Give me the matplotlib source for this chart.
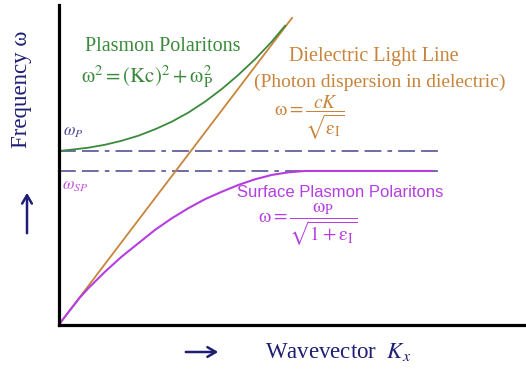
"""
Dispersion diagram: bulk plasmon polaritons, dielectric light line and
surface plasmon polaritons (omega vs K_x), values read off the picture.
"""

import matplotlib
matplotlib.use("Agg")
import matplotlib.pyplot as plt

plt.rcParams["font.family"] = ["Liberation Serif", "DejaVu Serif"]
plt.rcParams["mathtext.fontset"] = "stix"

# --- data (K in units where omega_p = 1) ---
omega_p = 1.0
omega_sp = 0.885

k_bulk = [0.0, 0.092, 0.169, 0.265, 0.361, 0.457, 0.553, 0.650, 0.745,
          0.841, 0.938, 1.033, 1.130, 1.226, 1.303]
w_bulk = [1.000, 1.010, 1.019, 1.036, 1.059, 1.088, 1.125, 1.169, 1.221,
          1.284, 1.357, 1.438, 1.529, 1.630, 1.722]

k_light = [0.0, 1.343]
w_light = [0.0, 1.767]

k_spp = [0.0, 0.073, 0.12, 0.169, 0.265, 0.361, 0.457, 0.553, 0.650, 0.745,
         0.841, 0.938, 1.033, 1.130, 1.226, 1.322, 1.418, 2.150]
w_spp = [0.0, 0.095, 0.155, 0.209, 0.304, 0.391, 0.468, 0.545, 0.612, 0.670,
         0.722, 0.765, 0.804, 0.837, 0.862, 0.877, 0.885, 0.885]

k_dash_end = 2.213

GREEN = "#3b8a3b"
ORANGE = "#c8843a"
PURPLE = "#b43ee0"
NAVY = "#45458c"
DARK = "#1e1e74"

W, H = 526, 376
fig = plt.figure(figsize=(W / 100, H / 100), dpi=100)
ox, oy = 59, 324.5
ax = fig.add_axes([ox / W, (H - oy) / H, (W - ox) / W, (oy - 5) / H])
ax.set_xlim(0, (W - ox) / 173.5)
ax.set_ylim(0, (oy - 5) / 173.5)

for s in ["top", "right"]:
    ax.spines[s].set_visible(False)
for s in ["left", "bottom"]:
    ax.spines[s].set_linewidth(2.3)
    ax.spines[s].set_color("black")
ax.set_xticks([])
ax.set_yticks([])
ax.patch.set_alpha(0)

dash = (0, (11, 4, 11, 4, 3, 4))
ax.plot([0, k_dash_end], [omega_p, omega_p], color=NAVY, lw=1.1, linestyle=dash)
ax.plot([0, k_dash_end], [omega_sp, omega_sp], color=NAVY, lw=1.1, linestyle=dash)

ax.plot(k_light, w_light, color=ORANGE, lw=1.3)
ax.plot(k_bulk, w_bulk, color=GREEN, lw=1.3)
ax.plot(k_spp, w_spp, color=PURPLE, lw=1.5)

# labels inside
ax.text(0.599, 1.605, "Plasmon Polaritons", color=GREEN, fontsize=14.5,
        ha="center", va="center")
ax.text(0.507, 1.43, r"$\mathrm{ω}^2 = (\mathrm{Kc})^2 + \mathrm{ω}_\mathrm{P}^2$",
        color=GREEN, fontsize=15, ha="center", va="center")
ax.text(0.025, 1.11, r"$\omega_P$", color=NAVY, fontsize=12, ha="left", va="center")
ax.text(0.02, 0.80, r"$\omega_{SP}$", color="#c050e0", fontsize=12,
        ha="left", va="center")

ax.text(1.816, 1.542, "Dielectric Light Line", color=ORANGE, fontsize=14.5,
        ha="center", va="center")
ax.text(1.850, 1.398, "(Photon dispersion in dielectric)", color=ORANGE,
        fontsize=14, ha="center", va="center")
ax.text(1.441, 1.19, r"$\mathrm{ω} = \dfrac{cK}{\sqrt{\mathrm{ε}_\mathrm{I}}}$",
        color=ORANGE, fontsize=14, ha="center", va="center")

ax.text(1.620, 0.763, "Surface Plasmon Polaritons", color=PURPLE, fontsize=12,
        family=["Liberation Sans", "DejaVu Sans"], ha="center", va="center")
ax.text(1.435, 0.573,
        r"$\mathrm{ω} = \dfrac{\mathrm{ω}_\mathrm{P}}{\sqrt{1+\mathrm{ε}_\mathrm{I}}}$",
        color=PURPLE, fontsize=14, ha="center", va="center")

# axis captions
fig.text(22 / W, 1 - 89 / H, "Frequency ω", rotation=90, color=DARK,
         fontsize=16.5, ha="center", va="center")
fig.text(265 / W, 1 - 352 / H, r"Wavevector  $K_x$", color=DARK,
         fontsize=16.5, ha="left", va="center")

arrow = dict(arrowstyle="->,head_length=0.6,head_width=0.35", lw=1.8, color=DARK)
ax.annotate("", xy=(27 / W, 1 - 190 / H), xytext=(27 / W, 1 - 236 / H),
            xycoords="figure fraction", textcoords="figure fraction",
            arrowprops=arrow, annotation_clip=False)
ax.annotate("", xy=(221 / W, 1 - 352 / H), xytext=(183 / W, 1 - 352 / H),
            xycoords="figure fraction", textcoords="figure fraction",
            arrowprops=arrow, annotation_clip=False)

fig.savefig("out.png", dpi=100)
